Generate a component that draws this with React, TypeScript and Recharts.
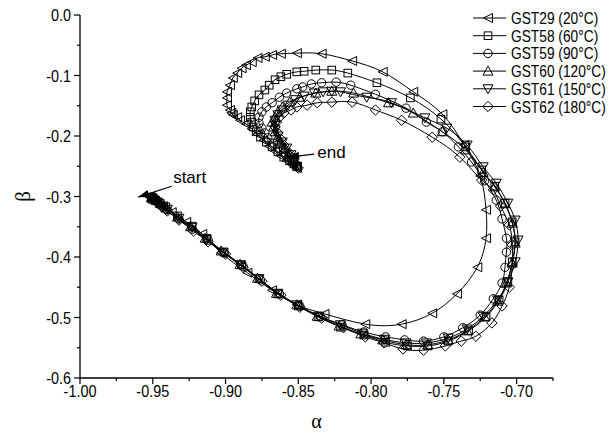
import { Label, Legend, ReferenceDot, ReferenceLine, Scatter, ScatterChart, XAxis, YAxis } from "recharts";

// [alpha, beta] trajectories, one array per sample
const gst29: [number, number][] = [
  [-0.952, -0.301], [-0.951, -0.302], [-0.95, -0.304], [-0.949, -0.307], [-0.947, -0.311], [-0.943, -0.316],
  [-0.937, -0.326], [-0.927, -0.342], [-0.916, -0.362], [-0.903, -0.393], [-0.885, -0.426], [-0.868, -0.455],
  [-0.851, -0.479], [-0.832, -0.494], [-0.804, -0.511], [-0.779, -0.511], [-0.758, -0.493], [-0.741, -0.461],
  [-0.727, -0.417], [-0.721, -0.369], [-0.721, -0.322], [-0.725, -0.266], [-0.736, -0.215], [-0.751, -0.164],
  [-0.771, -0.127], [-0.792, -0.094], [-0.813, -0.076], [-0.834, -0.064], [-0.851, -0.063], [-0.862, -0.064],
  [-0.868, -0.066], [-0.873, -0.069], [-0.878, -0.071], [-0.882, -0.078], [-0.886, -0.083], [-0.889, -0.088],
  [-0.892, -0.096], [-0.895, -0.104], [-0.897, -0.116], [-0.899, -0.127], [-0.899, -0.137], [-0.899, -0.149],
  [-0.897, -0.157], [-0.896, -0.162], [-0.895, -0.165], [-0.892, -0.169], [-0.89, -0.174], [-0.886, -0.18],
  [-0.882, -0.188], [-0.878, -0.197], [-0.874, -0.207], [-0.87, -0.217], [-0.866, -0.225], [-0.862, -0.233],
  [-0.858, -0.241], [-0.854, -0.248], [-0.851, -0.253],
];

const gst58: [number, number][] = [
  [-0.951, -0.301], [-0.95, -0.304], [-0.948, -0.307], [-0.945, -0.311], [-0.941, -0.317], [-0.933, -0.332],
  [-0.923, -0.349], [-0.913, -0.369], [-0.901, -0.392], [-0.889, -0.413], [-0.877, -0.436], [-0.864, -0.461],
  [-0.85, -0.481], [-0.836, -0.499], [-0.821, -0.516], [-0.805, -0.529], [-0.79, -0.541], [-0.775, -0.547],
  [-0.761, -0.547], [-0.747, -0.539], [-0.733, -0.522], [-0.721, -0.499], [-0.712, -0.471], [-0.706, -0.441],
  [-0.703, -0.408], [-0.701, -0.375], [-0.703, -0.342], [-0.708, -0.311], [-0.715, -0.283], [-0.724, -0.256],
  [-0.735, -0.218], [-0.752, -0.172], [-0.773, -0.137], [-0.796, -0.112], [-0.816, -0.096], [-0.827, -0.091],
  [-0.838, -0.091], [-0.846, -0.093], [-0.851, -0.094], [-0.858, -0.098], [-0.862, -0.102], [-0.866, -0.107],
  [-0.87, -0.116], [-0.873, -0.124], [-0.877, -0.132], [-0.88, -0.142], [-0.882, -0.152], [-0.883, -0.16],
  [-0.883, -0.169], [-0.882, -0.177], [-0.881, -0.185], [-0.879, -0.193], [-0.876, -0.202], [-0.872, -0.21],
  [-0.868, -0.218], [-0.864, -0.226], [-0.86, -0.235], [-0.856, -0.241], [-0.853, -0.246], [-0.851, -0.251],
];

const gst59: [number, number][] = [
  [-0.951, -0.302], [-0.949, -0.304], [-0.947, -0.307], [-0.945, -0.314], [-0.94, -0.322], [-0.932, -0.337],
  [-0.923, -0.354], [-0.912, -0.372], [-0.901, -0.393], [-0.888, -0.415], [-0.876, -0.438], [-0.863, -0.461],
  [-0.849, -0.481], [-0.835, -0.498], [-0.82, -0.512], [-0.805, -0.524], [-0.79, -0.532], [-0.777, -0.537],
  [-0.764, -0.539], [-0.75, -0.532], [-0.737, -0.517], [-0.725, -0.496], [-0.716, -0.469], [-0.71, -0.443],
  [-0.708, -0.417], [-0.707, -0.392], [-0.707, -0.369], [-0.71, -0.337], [-0.714, -0.306], [-0.722, -0.274],
  [-0.731, -0.243], [-0.74, -0.218], [-0.751, -0.193], [-0.762, -0.177], [-0.776, -0.154], [-0.797, -0.131],
  [-0.814, -0.116], [-0.824, -0.111], [-0.834, -0.112], [-0.841, -0.114], [-0.847, -0.119], [-0.851, -0.122],
  [-0.858, -0.129], [-0.863, -0.136], [-0.868, -0.145], [-0.872, -0.152], [-0.875, -0.16], [-0.877, -0.169],
  [-0.877, -0.179], [-0.875, -0.187], [-0.873, -0.195], [-0.871, -0.203], [-0.867, -0.212], [-0.864, -0.22],
  [-0.86, -0.228], [-0.857, -0.236], [-0.854, -0.243], [-0.851, -0.25],
];

const gst60: [number, number][] = [
  [-0.951, -0.302], [-0.95, -0.304], [-0.948, -0.306], [-0.945, -0.311], [-0.941, -0.319], [-0.933, -0.334],
  [-0.924, -0.35], [-0.914, -0.369], [-0.903, -0.39], [-0.89, -0.412], [-0.878, -0.435], [-0.865, -0.46],
  [-0.851, -0.479], [-0.837, -0.498], [-0.822, -0.514], [-0.807, -0.527], [-0.792, -0.537], [-0.776, -0.545],
  [-0.761, -0.545], [-0.747, -0.537], [-0.734, -0.522], [-0.722, -0.499], [-0.713, -0.473], [-0.707, -0.443],
  [-0.703, -0.41], [-0.701, -0.377], [-0.703, -0.344], [-0.708, -0.312], [-0.715, -0.284], [-0.723, -0.26],
  [-0.735, -0.223], [-0.751, -0.193], [-0.771, -0.162], [-0.788, -0.145], [-0.812, -0.129], [-0.827, -0.126],
  [-0.838, -0.129], [-0.849, -0.136], [-0.856, -0.144], [-0.861, -0.152], [-0.864, -0.16], [-0.866, -0.169],
  [-0.868, -0.177], [-0.867, -0.185], [-0.866, -0.193], [-0.864, -0.202], [-0.862, -0.21], [-0.859, -0.22],
  [-0.856, -0.23], [-0.853, -0.24], [-0.851, -0.248],
];

const gst61: [number, number][] = [
  [-0.951, -0.302], [-0.949, -0.306], [-0.947, -0.309], [-0.945, -0.314], [-0.94, -0.321], [-0.932, -0.336],
  [-0.923, -0.351], [-0.913, -0.371], [-0.902, -0.392], [-0.89, -0.413], [-0.877, -0.436], [-0.864, -0.46],
  [-0.851, -0.479], [-0.836, -0.498], [-0.821, -0.512], [-0.806, -0.526], [-0.791, -0.536], [-0.776, -0.542],
  [-0.762, -0.542], [-0.747, -0.534], [-0.734, -0.519], [-0.723, -0.498], [-0.713, -0.471], [-0.706, -0.441],
  [-0.701, -0.408], [-0.699, -0.372], [-0.701, -0.339], [-0.706, -0.311], [-0.714, -0.278], [-0.723, -0.251],
  [-0.734, -0.215], [-0.748, -0.187], [-0.763, -0.17], [-0.786, -0.145], [-0.803, -0.136], [-0.821, -0.127],
  [-0.827, -0.126], [-0.833, -0.127], [-0.839, -0.129], [-0.846, -0.134], [-0.852, -0.14], [-0.857, -0.149],
  [-0.861, -0.157], [-0.864, -0.165], [-0.866, -0.174], [-0.866, -0.182], [-0.866, -0.19], [-0.864, -0.2],
  [-0.861, -0.21], [-0.858, -0.22], [-0.855, -0.231], [-0.853, -0.241], [-0.851, -0.25],
];

const gst62: [number, number][] = [
  [-0.95, -0.302], [-0.949, -0.306], [-0.947, -0.309], [-0.944, -0.316], [-0.94, -0.324], [-0.932, -0.339],
  [-0.922, -0.357], [-0.912, -0.375], [-0.9, -0.395], [-0.888, -0.417], [-0.875, -0.44], [-0.862, -0.463],
  [-0.849, -0.483], [-0.834, -0.501], [-0.819, -0.517], [-0.804, -0.532], [-0.791, -0.542], [-0.778, -0.552],
  [-0.764, -0.554], [-0.749, -0.547], [-0.738, -0.539], [-0.728, -0.531], [-0.717, -0.509], [-0.71, -0.481],
  [-0.705, -0.45], [-0.703, -0.413], [-0.703, -0.38], [-0.705, -0.347], [-0.711, -0.316], [-0.716, -0.289],
  [-0.724, -0.273], [-0.739, -0.235], [-0.758, -0.202], [-0.779, -0.174], [-0.797, -0.157], [-0.813, -0.144],
  [-0.827, -0.144], [-0.837, -0.145], [-0.844, -0.149], [-0.851, -0.152], [-0.855, -0.157], [-0.86, -0.162],
  [-0.863, -0.169], [-0.865, -0.177], [-0.866, -0.185], [-0.864, -0.195], [-0.862, -0.205], [-0.86, -0.215],
  [-0.857, -0.226], [-0.854, -0.236], [-0.852, -0.245], [-0.85, -0.253],
];

const seriesNames = ["GST29 (20°C)", "GST58 (60°C)", "GST59 (90°C)", "GST60 (120°C)", "GST61 (150°C)", "GST62 (180°C)"];

const xTicks = [-1, -0.975, -0.95, -0.925, -0.9, -0.875, -0.85, -0.825, -0.8, -0.775, -0.75, -0.725, -0.7, -0.675];
const yTicks = [-0.6, -0.55, -0.5, -0.45, -0.4, -0.35, -0.3, -0.25, -0.2, -0.15, -0.1, -0.05, 0];

// annotation anchors: [alpha, beta]
const startTip: [number, number] = [-0.96, -0.301];
const startTail: [number, number] = [-0.937, -0.283];
const startText: [number, number] = [-0.936, -0.278];
const endTip: [number, number] = [-0.857, -0.235];
const endTail: [number, number] = [-0.839, -0.23];
const endText: [number, number] = [-0.837, -0.236];

type MarkerKind = "left" | "square" | "circle" | "up" | "down" | "diamond";

const markers: MarkerKind[] = ["left", "square", "circle", "up", "down", "diamond"];
const allSeries = [gst29, gst58, gst59, gst60, gst61, gst62];

const FONT = '"Liberation Sans", Arial, Helvetica, sans-serif';

function Marker({ cx, cy, kind }: { cx: number; cy: number; kind: MarkerKind }) {
  const s = { fill: "none", stroke: "#000", strokeWidth: 1 };
  const r = 4.5;
  switch (kind) {
    case "left":
      return <polygon points={`${cx - r},${cy} ${cx + r},${cy - r} ${cx + r},${cy + r}`} {...s} />;
    case "square":
      return <rect x={cx - 3.8} y={cy - 3.8} width={7.6} height={7.6} {...s} />;
    case "circle":
      return <circle cx={cx} cy={cy} r={4.2} {...s} />;
    case "up":
      return <polygon points={`${cx},${cy - r - 0.5} ${cx + r + 0.5},${cy + r - 0.5} ${cx - r - 0.5},${cy + r - 0.5}`} {...s} />;
    case "down":
      return <polygon points={`${cx},${cy + r + 0.5} ${cx + r + 0.5},${cy - r + 0.5} ${cx - r - 0.5},${cy - r + 0.5}`} {...s} />;
    default:
      return <polygon points={`${cx},${cy - 5.2} ${cx + 5.2},${cy} ${cx},${cy + 5.2} ${cx - 5.2},${cy}`} {...s} />;
  }
}

const isMajor = (v: number) => Math.round(Math.abs(v) * 1000) % 50 === 0;

function XTick({ x, y, payload }: any) {
  const v = payload.value as number;
  const major = isMajor(v);
  return (
    <g>
      <line x1={x} x2={x} y1={y} y2={y + (major ? 6 : 3)} stroke="#000" strokeWidth={1.2} />
      {major && (
        <text transform={`translate(${x},${y + 19}) scale(0.9,1)`} textAnchor="middle" fontSize={16} fontFamily={FONT} fill="#000">
          {v.toFixed(2)}
        </text>
      )}
    </g>
  );
}

function YTick({ x, y, payload }: any) {
  const v = payload.value as number;
  const major = Math.round(Math.abs(v) * 100) % 10 === 0;
  return (
    <g>
      <line x1={x} x2={x - (major ? 6 : 3)} y1={y} y2={y} stroke="#000" strokeWidth={1.2} />
      {major && (
        <text transform={`translate(${x - 9},${y + 6}) scale(0.9,1)`} textAnchor="end" fontSize={16} fontFamily={FONT} fill="#000">
          {v === 0 ? "0.0" : v.toFixed(1)}
        </text>
      )}
    </g>
  );
}

function ArrowHead({ cx, cy, angle }: { cx: number; cy: number; angle: number }) {
  return <polygon transform={`translate(${cx},${cy}) rotate(${angle})`} points="0,0 -11,-4 -11,4" fill="#000" />;
}

function LegendBox() {
  return (
    <svg width={145} height={116} style={{ overflow: "visible" }}>
      {seriesNames.map((name, i) => {
        const y = 18 + i * 17.7;
        return (
          <g key={name}>
            <line x1={7} x2={40} y1={y} y2={y} stroke="#000" strokeWidth={1} />
            <Marker cx={22} cy={y} kind={markers[i]} />
            <text transform={`translate(45,${y + 6}) scale(0.86,1)`} fontSize={16} fontFamily={FONT}>
              {name}
            </text>
          </g>
        );
      })}
    </svg>
  );
}

export default function App() {
  return (
    <div style={{ position: "absolute", left: 0, top: 0, background: "#fff" }}>
      <ScatterChart width={611} height={434} margin={{ top: 15, right: 58, bottom: 0, left: 0 }}>
        <XAxis
          type="number"
          dataKey="a"
          domain={[-1, -0.675]}
          ticks={xTicks}
          interval={0}
          height={56}
          tickLine={false}
          tickSize={0}
          tickMargin={0}
          tick={(p: any) => <XTick {...p} />}
          axisLine={{ stroke: "#000", strokeWidth: 1.3 }}
        >
          <Label
            content={({ viewBox }: any) => (
              <text x={viewBox.x + viewBox.width / 2} y={viewBox.y + 50} textAnchor="middle" fontSize={20} fontFamily='"Liberation Serif", serif'>
                α
              </text>
            )}
          />
        </XAxis>
        <YAxis
          type="number"
          dataKey="b"
          domain={[-0.6, 0]}
          ticks={yTicks}
          interval={0}
          width={80}
          tickLine={false}
          tickSize={0}
          tickMargin={0}
          tick={(p: any) => <YTick {...p} />}
          axisLine={{ stroke: "#000", strokeWidth: 1.3 }}
        >
          <Label
            content={({ viewBox }: any) => (
              <text
                transform={`translate(${viewBox.x + 30},${viewBox.y + viewBox.height / 2}) rotate(-90)`}
                textAnchor="middle"
                fontSize={21}
                fontFamily='"Liberation Serif", serif'
              >
                β
              </text>
            )}
          />
        </YAxis>
        <Legend
          layout="vertical"
          align="center"
          verticalAlign="middle"
          wrapperStyle={{ position: "absolute", top: 0, left: 466, width: 145 }}
          content={() => <LegendBox />}
        />
        {allSeries.map((pts, i) => (
          <Scatter
            key={seriesNames[i]}
            name={seriesNames[i]}
            data={pts.map(([a, b]) => ({ a, b }))}
            line={{ stroke: "#000", strokeWidth: 1 }}
            lineJointType="natural"
            shape={(p: any) => <Marker cx={p.cx} cy={p.cy} kind={markers[i]} />}
            isAnimationActive={false}
          />
        ))}
        <ReferenceLine
          segment={[{ x: startTail[0], y: startTail[1] }, { x: startTip[0], y: startTip[1] }]}
          stroke="#000"
          strokeWidth={1.2}
        />
        <ReferenceDot x={startTip[0]} y={startTip[1]} r={1} shape={(p: any) => <ArrowHead cx={p.cx} cy={p.cy} angle={162} />} />
        <ReferenceDot
          x={startText[0]}
          y={startText[1]}
          r={1}
          shape={(p: any) => (
            <text x={p.cx} y={p.cy} fontSize={17} fontFamily={FONT}>
              start
            </text>
          )}
        />
        <ReferenceLine segment={[{ x: endTail[0], y: endTail[1] }, { x: endTip[0], y: endTip[1] }]} stroke="#000" strokeWidth={1.2} />
        <ReferenceDot x={endTip[0]} y={endTip[1]} r={1} shape={(p: any) => <ArrowHead cx={p.cx} cy={p.cy} angle={173} />} />
        <ReferenceDot
          x={endText[0]}
          y={endText[1]}
          r={1}
          shape={(p: any) => (
            <text x={p.cx} y={p.cy} fontSize={17} fontFamily={FONT}>
              end
            </text>
          )}
        />
      </ScatterChart>
    </div>
  );
}
